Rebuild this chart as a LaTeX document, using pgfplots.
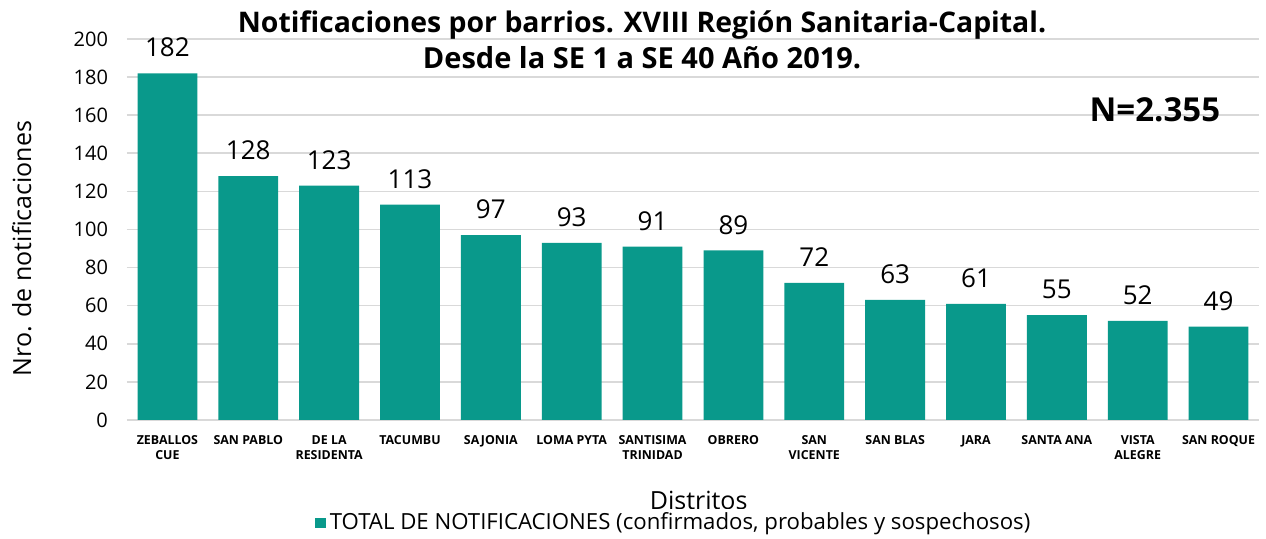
\documentclass[border=0pt]{standalone}
\usepackage{fontspec}
\setmainfont{Open Sans}
\usepackage{pgfplots}
\pgfplotsset{compat=1.18}
\definecolor{barc}{RGB}{9,153,139}
\definecolor{gridc}{RGB}{217,217,217}
\begin{document}
\begin{tikzpicture}
\begin{axis}[
  at={(0,0)}, anchor=south west,
  scale only axis, width=566pt, height=190.5pt,
  clip=false,
  ybar, bar width=0.74,
  xmin=-0.5, xmax=13.5, ymin=0, ymax=200,
  ytick={0,20,...,200},
  xtick=data,
  xticklabels={ZEBALLOS\\CUE, SAN PABLO, DE LA\\RESIDENTA, TACUMBU, SAJONIA, LOMA PYTA, SANTISIMA\\TRINIDAD, OBRERO, SAN\\VICENTE, SAN BLAS, JARA, SANTA ANA, VISTA\\ALEGRE, SAN ROQUE},
  xticklabel style={align=center, font=\bfseries\fontsize{6.2}{7.6}\selectfont},
  yticklabel style={font=\fontsize{10}{11}\selectfont, xshift=-6pt},
  /pgf/number format/assume math mode=true,
  axis line style={draw=none},
  tick style={draw=none},
  ymajorgrids, grid style={gridc, line width=0.8pt},
  nodes near coords,
  nodes near coords style={font=\fontsize{13}{15}\selectfont, yshift=4.5pt},
  xlabel={Distritos},
  xlabel style={at={(axis description cs:0.505,-0.21)}, anchor=center, font=\fontsize{12.5}{14}\selectfont},
  ylabel={Nro. de notificaciones},
  ylabel style={at={(axis description cs:-0.093,0.45)}, anchor=center, font=\fontsize{12.5}{14}\selectfont},
  legend style={at={(axis description cs:0.484,-0.27)}, anchor=center, draw=none, font=\fontsize{11.1}{13}\selectfont, inner sep=0pt},
  legend image code/.code={\fill[barc] (0pt,-2.6pt) rectangle (5.2pt,2.6pt);},
]
\addplot[fill=barc, draw=none] coordinates {
(0,182) (1,128) (2,123) (3,113) (4,97) (5,93) (6,91) (7,89) (8,72) (9,63) (10,61) (11,55) (12,52) (13,49)};
\addlegendentry{TOTAL DE NOTIFICACIONES (confirmados, probables y sospechosos)}
\node[font=\bfseries\fontsize{14.2}{18}\selectfont, align=center] at (axis description cs:0.455,0.997) {Notificaciones por barrios. XVIII Región Sanitaria-Capital.\\{\fontsize{14.5}{18}\selectfont Desde la SE 1 a SE 40 Año 2019.}};
\node[font=\bfseries\fontsize{16.5}{19}\selectfont] at (axis description cs:0.908,0.813) {N=2.355};
\end{axis}
\pgfresetboundingbox
\path[use as bounding box] (-63.5pt,-59.5pt) rectangle (569.5pt,210pt);
\end{tikzpicture}
\end{document}
